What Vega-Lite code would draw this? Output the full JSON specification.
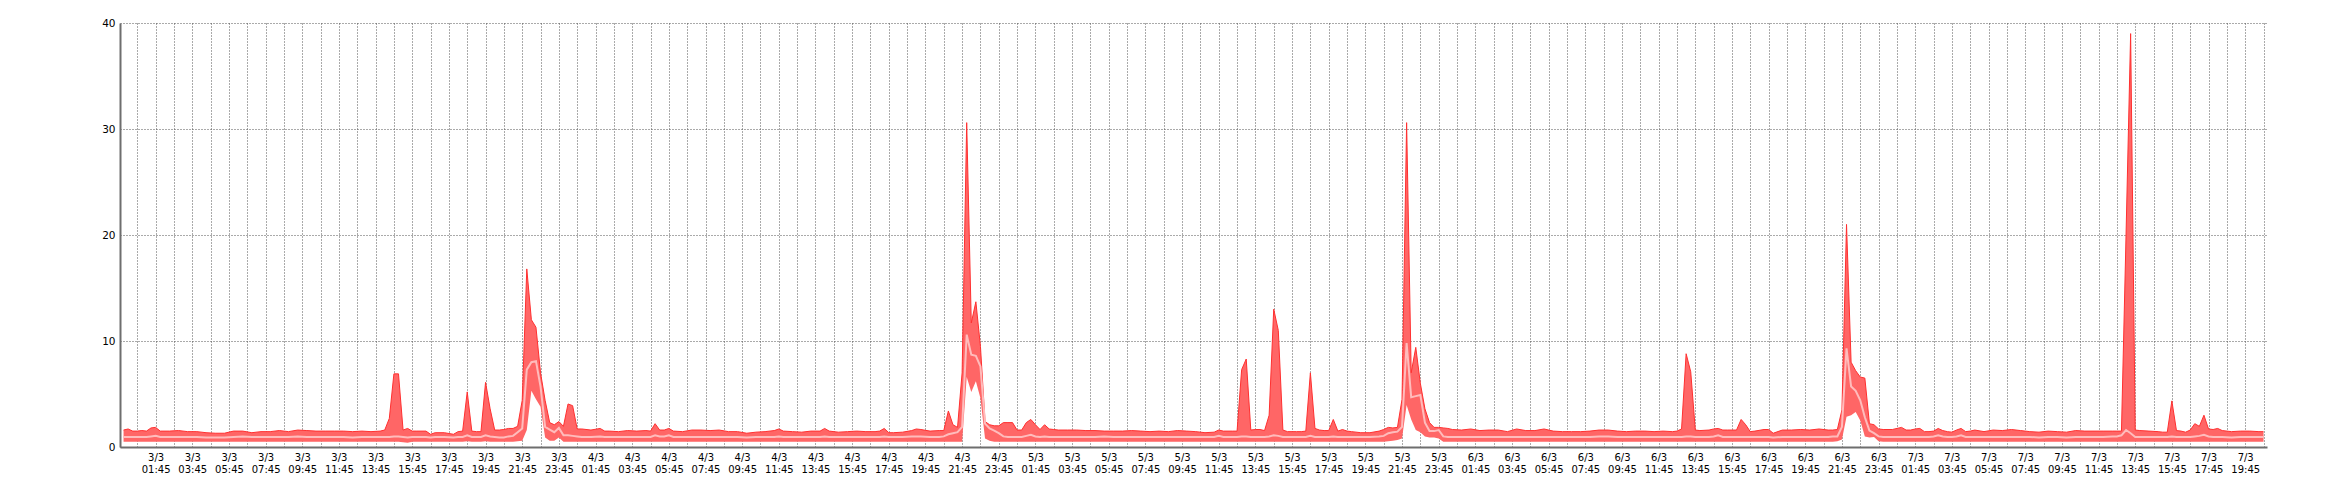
{
"$schema":"https://vega.github.io/schema/vega-lite/v6.json",
"width":2147,"height":424,
"autosize":{"type":"none"},
"padding":{"left":120,"top":23,"right":73,"bottom":53},
"background":"white",
"config":{"view":{"stroke":null},"axis":{"labelFont":"DejaVu Sans","labelFontSize":10,"labelColor":"#000","domainColor":"#6e6e6e","domainWidth":2,"gridColor":"#555","gridDash":[1,2],"gridWidth":1,"ticks":false}},
"data":{"values":[
{"t":"2023-03-03T00:00Z","lo":0.5,"avg":0.95,"hi":1.6},
{"t":"2023-03-03T00:15Z","lo":0.5,"avg":0.95,"hi":1.7},
{"t":"2023-03-03T00:30Z","lo":0.5,"avg":0.95,"hi":1.5},
{"t":"2023-03-03T00:45Z","lo":0.5,"avg":0.95,"hi":1.5},
{"t":"2023-03-03T01:00Z","lo":0.5,"avg":0.95,"hi":1.55},
{"t":"2023-03-03T01:15Z","lo":0.5,"avg":0.95,"hi":1.5},
{"t":"2023-03-03T01:30Z","lo":0.5,"avg":1.0,"hi":1.8},
{"t":"2023-03-03T01:45Z","lo":0.5,"avg":1.05,"hi":1.85},
{"t":"2023-03-03T02:00Z","lo":0.5,"avg":0.95,"hi":1.5},
{"t":"2023-03-03T02:30Z","lo":0.5,"avg":0.95,"hi":1.5},
{"t":"2023-03-03T03:00Z","lo":0.5,"avg":0.95,"hi":1.55},
{"t":"2023-03-03T03:30Z","lo":0.5,"avg":0.95,"hi":1.45},
{"t":"2023-03-03T04:00Z","lo":0.5,"avg":0.95,"hi":1.45},
{"t":"2023-03-03T04:30Z","lo":0.5,"avg":0.9,"hi":1.35},
{"t":"2023-03-03T05:00Z","lo":0.5,"avg":0.9,"hi":1.3},
{"t":"2023-03-03T05:30Z","lo":0.5,"avg":0.9,"hi":1.3},
{"t":"2023-03-03T06:00Z","lo":0.5,"avg":0.95,"hi":1.5},
{"t":"2023-03-03T06:30Z","lo":0.5,"avg":1.0,"hi":1.5},
{"t":"2023-03-03T07:00Z","lo":0.5,"avg":0.95,"hi":1.35},
{"t":"2023-03-03T07:30Z","lo":0.5,"avg":0.95,"hi":1.45},
{"t":"2023-03-03T08:00Z","lo":0.5,"avg":0.95,"hi":1.45},
{"t":"2023-03-03T08:30Z","lo":0.5,"avg":0.95,"hi":1.55},
{"t":"2023-03-03T09:00Z","lo":0.5,"avg":0.95,"hi":1.45},
{"t":"2023-03-03T09:30Z","lo":0.5,"avg":1.0,"hi":1.6},
{"t":"2023-03-03T10:00Z","lo":0.5,"avg":0.95,"hi":1.55},
{"t":"2023-03-03T10:30Z","lo":0.5,"avg":0.95,"hi":1.5},
{"t":"2023-03-03T11:00Z","lo":0.5,"avg":0.95,"hi":1.5},
{"t":"2023-03-03T11:30Z","lo":0.5,"avg":0.95,"hi":1.5},
{"t":"2023-03-03T12:00Z","lo":0.5,"avg":0.95,"hi":1.5},
{"t":"2023-03-03T12:30Z","lo":0.5,"avg":0.9,"hi":1.45},
{"t":"2023-03-03T13:00Z","lo":0.5,"avg":0.95,"hi":1.5},
{"t":"2023-03-03T13:30Z","lo":0.5,"avg":0.95,"hi":1.45},
{"t":"2023-03-03T14:00Z","lo":0.5,"avg":0.95,"hi":1.5},
{"t":"2023-03-03T14:15Z","lo":0.5,"avg":0.95,"hi":1.6},
{"t":"2023-03-03T14:30Z","lo":0.5,"avg":0.95,"hi":2.7},
{"t":"2023-03-03T14:45Z","lo":0.5,"avg":1.0,"hi":6.9},
{"t":"2023-03-03T15:00Z","lo":0.5,"avg":1.0,"hi":6.9},
{"t":"2023-03-03T15:15Z","lo":0.45,"avg":0.95,"hi":1.6},
{"t":"2023-03-03T15:30Z","lo":0.4,"avg":0.9,"hi":1.75},
{"t":"2023-03-03T15:45Z","lo":0.5,"avg":0.95,"hi":1.5},
{"t":"2023-03-03T16:00Z","lo":0.5,"avg":0.95,"hi":1.5},
{"t":"2023-03-03T16:30Z","lo":0.5,"avg":0.95,"hi":1.5},
{"t":"2023-03-03T16:45Z","lo":0.5,"avg":0.9,"hi":1.2},
{"t":"2023-03-03T17:00Z","lo":0.5,"avg":0.95,"hi":1.35},
{"t":"2023-03-03T17:30Z","lo":0.5,"avg":0.95,"hi":1.35},
{"t":"2023-03-03T18:00Z","lo":0.5,"avg":0.9,"hi":1.2},
{"t":"2023-03-03T18:15Z","lo":0.5,"avg":0.95,"hi":1.45},
{"t":"2023-03-03T18:30Z","lo":0.5,"avg":0.95,"hi":1.5},
{"t":"2023-03-03T18:45Z","lo":0.55,"avg":1.1,"hi":5.2},
{"t":"2023-03-03T19:00Z","lo":0.5,"avg":0.95,"hi":1.5},
{"t":"2023-03-03T19:15Z","lo":0.5,"avg":0.95,"hi":1.45},
{"t":"2023-03-03T19:30Z","lo":0.5,"avg":0.95,"hi":1.45},
{"t":"2023-03-03T19:45Z","lo":0.55,"avg":1.1,"hi":6.1},
{"t":"2023-03-03T20:00Z","lo":0.5,"avg":1.0,"hi":3.6},
{"t":"2023-03-03T20:15Z","lo":0.5,"avg":0.95,"hi":1.6},
{"t":"2023-03-03T20:30Z","lo":0.5,"avg":0.9,"hi":1.6},
{"t":"2023-03-03T20:45Z","lo":0.5,"avg":0.9,"hi":1.65},
{"t":"2023-03-03T21:00Z","lo":0.5,"avg":1.0,"hi":1.75},
{"t":"2023-03-03T21:15Z","lo":0.5,"avg":1.05,"hi":1.75},
{"t":"2023-03-03T21:30Z","lo":0.55,"avg":1.4,"hi":1.95},
{"t":"2023-03-03T21:45Z","lo":0.6,"avg":1.75,"hi":4.4},
{"t":"2023-03-03T22:00Z","lo":1.6,"avg":7.3,"hi":16.8},
{"t":"2023-03-03T22:15Z","lo":5.3,"avg":8.0,"hi":12.0},
{"t":"2023-03-03T22:30Z","lo":4.5,"avg":8.1,"hi":11.3},
{"t":"2023-03-03T22:45Z","lo":3.8,"avg":5.7,"hi":7.0},
{"t":"2023-03-03T23:00Z","lo":0.9,"avg":1.9,"hi":4.4},
{"t":"2023-03-03T23:15Z","lo":0.6,"avg":1.65,"hi":2.3},
{"t":"2023-03-03T23:30Z","lo":0.6,"avg":1.4,"hi":2.1},
{"t":"2023-03-03T23:45Z","lo":0.9,"avg":1.8,"hi":2.4},
{"t":"2023-03-04T00:00Z","lo":0.5,"avg":1.1,"hi":1.95},
{"t":"2023-03-04T00:15Z","lo":0.5,"avg":1.1,"hi":4.06},
{"t":"2023-03-04T00:30Z","lo":0.5,"avg":1.05,"hi":3.9},
{"t":"2023-03-04T00:45Z","lo":0.5,"avg":1.0,"hi":1.7},
{"t":"2023-03-04T01:00Z","lo":0.5,"avg":0.95,"hi":1.7},
{"t":"2023-03-04T01:30Z","lo":0.5,"avg":0.95,"hi":1.6},
{"t":"2023-03-04T02:00Z","lo":0.5,"avg":1.0,"hi":1.75},
{"t":"2023-03-04T02:15Z","lo":0.5,"avg":0.95,"hi":1.5},
{"t":"2023-03-04T02:30Z","lo":0.5,"avg":0.95,"hi":1.5},
{"t":"2023-03-04T03:00Z","lo":0.5,"avg":0.95,"hi":1.45},
{"t":"2023-03-04T03:30Z","lo":0.5,"avg":0.95,"hi":1.55},
{"t":"2023-03-04T04:00Z","lo":0.5,"avg":0.95,"hi":1.5},
{"t":"2023-03-04T04:30Z","lo":0.5,"avg":0.95,"hi":1.55},
{"t":"2023-03-04T04:45Z","lo":0.5,"avg":0.95,"hi":1.5},
{"t":"2023-03-04T05:00Z","lo":0.5,"avg":1.1,"hi":2.2},
{"t":"2023-03-04T05:15Z","lo":0.5,"avg":1.0,"hi":1.6},
{"t":"2023-03-04T05:30Z","lo":0.5,"avg":1.0,"hi":1.6},
{"t":"2023-03-04T05:45Z","lo":0.5,"avg":1.1,"hi":1.75},
{"t":"2023-03-04T06:00Z","lo":0.5,"avg":0.95,"hi":1.5},
{"t":"2023-03-04T06:30Z","lo":0.5,"avg":0.95,"hi":1.45},
{"t":"2023-03-04T07:00Z","lo":0.5,"avg":0.95,"hi":1.6},
{"t":"2023-03-04T07:30Z","lo":0.5,"avg":0.95,"hi":1.6},
{"t":"2023-03-04T08:00Z","lo":0.5,"avg":0.95,"hi":1.55},
{"t":"2023-03-04T08:30Z","lo":0.5,"avg":0.95,"hi":1.6},
{"t":"2023-03-04T09:00Z","lo":0.5,"avg":0.95,"hi":1.45},
{"t":"2023-03-04T09:30Z","lo":0.5,"avg":0.95,"hi":1.45},
{"t":"2023-03-04T10:00Z","lo":0.5,"avg":0.9,"hi":1.3},
{"t":"2023-03-04T10:30Z","lo":0.5,"avg":0.95,"hi":1.4},
{"t":"2023-03-04T11:00Z","lo":0.5,"avg":0.95,"hi":1.45},
{"t":"2023-03-04T11:30Z","lo":0.5,"avg":0.95,"hi":1.55},
{"t":"2023-03-04T11:45Z","lo":0.5,"avg":1.0,"hi":1.7},
{"t":"2023-03-04T12:00Z","lo":0.5,"avg":0.95,"hi":1.5},
{"t":"2023-03-04T12:30Z","lo":0.5,"avg":0.95,"hi":1.45},
{"t":"2023-03-04T13:00Z","lo":0.5,"avg":0.95,"hi":1.4},
{"t":"2023-03-04T13:30Z","lo":0.5,"avg":0.95,"hi":1.5},
{"t":"2023-03-04T14:00Z","lo":0.5,"avg":0.95,"hi":1.5},
{"t":"2023-03-04T14:15Z","lo":0.5,"avg":1.0,"hi":1.75},
{"t":"2023-03-04T14:30Z","lo":0.5,"avg":0.95,"hi":1.5},
{"t":"2023-03-04T15:00Z","lo":0.5,"avg":0.95,"hi":1.4},
{"t":"2023-03-04T15:30Z","lo":0.5,"avg":0.95,"hi":1.45},
{"t":"2023-03-04T16:00Z","lo":0.5,"avg":0.95,"hi":1.5},
{"t":"2023-03-04T16:30Z","lo":0.5,"avg":0.95,"hi":1.45},
{"t":"2023-03-04T17:00Z","lo":0.5,"avg":0.95,"hi":1.45},
{"t":"2023-03-04T17:15Z","lo":0.5,"avg":0.95,"hi":1.5},
{"t":"2023-03-04T17:30Z","lo":0.5,"avg":1.0,"hi":1.75},
{"t":"2023-03-04T17:45Z","lo":0.5,"avg":0.95,"hi":1.35},
{"t":"2023-03-04T18:00Z","lo":0.5,"avg":0.95,"hi":1.35},
{"t":"2023-03-04T18:30Z","lo":0.5,"avg":0.95,"hi":1.4},
{"t":"2023-03-04T19:00Z","lo":0.5,"avg":1.0,"hi":1.55},
{"t":"2023-03-04T19:15Z","lo":0.5,"avg":1.0,"hi":1.7},
{"t":"2023-03-04T19:30Z","lo":0.5,"avg":1.0,"hi":1.65},
{"t":"2023-03-04T20:00Z","lo":0.5,"avg":0.95,"hi":1.5},
{"t":"2023-03-04T20:30Z","lo":0.5,"avg":0.95,"hi":1.55},
{"t":"2023-03-04T20:45Z","lo":0.5,"avg":1.0,"hi":1.55},
{"t":"2023-03-04T21:00Z","lo":0.5,"avg":1.2,"hi":3.4},
{"t":"2023-03-04T21:15Z","lo":0.5,"avg":1.3,"hi":2.1},
{"t":"2023-03-04T21:30Z","lo":0.5,"avg":1.4,"hi":1.85},
{"t":"2023-03-04T21:45Z","lo":0.5,"avg":1.9,"hi":7.0},
{"t":"2023-03-04T22:00Z","lo":6.6,"avg":10.6,"hi":30.6},
{"t":"2023-03-04T22:15Z","lo":5.2,"avg":8.7,"hi":11.7},
{"t":"2023-03-04T22:30Z","lo":6.2,"avg":8.6,"hi":13.7},
{"t":"2023-03-04T22:45Z","lo":4.6,"avg":7.6,"hi":9.5},
{"t":"2023-03-04T23:00Z","lo":0.8,"avg":2.2,"hi":2.4},
{"t":"2023-03-04T23:15Z","lo":0.6,"avg":1.75,"hi":2.1},
{"t":"2023-03-04T23:30Z","lo":0.5,"avg":1.55,"hi":2.0},
{"t":"2023-03-04T23:45Z","lo":0.5,"avg":1.3,"hi":2.0},
{"t":"2023-03-05T00:00Z","lo":0.5,"avg":1.0,"hi":2.3},
{"t":"2023-03-05T00:15Z","lo":0.5,"avg":0.95,"hi":2.3},
{"t":"2023-03-05T00:30Z","lo":0.5,"avg":0.95,"hi":2.3},
{"t":"2023-03-05T00:45Z","lo":0.5,"avg":0.95,"hi":1.6},
{"t":"2023-03-05T01:00Z","lo":0.5,"avg":0.95,"hi":1.6},
{"t":"2023-03-05T01:15Z","lo":0.5,"avg":1.05,"hi":2.3},
{"t":"2023-03-05T01:30Z","lo":0.5,"avg":1.15,"hi":2.6},
{"t":"2023-03-05T01:45Z","lo":0.5,"avg":1.0,"hi":2.1},
{"t":"2023-03-05T02:00Z","lo":0.5,"avg":0.95,"hi":1.65},
{"t":"2023-03-05T02:15Z","lo":0.5,"avg":1.0,"hi":2.1},
{"t":"2023-03-05T02:30Z","lo":0.5,"avg":0.95,"hi":1.7},
{"t":"2023-03-05T02:45Z","lo":0.5,"avg":0.95,"hi":1.65},
{"t":"2023-03-05T03:00Z","lo":0.5,"avg":0.95,"hi":1.6},
{"t":"2023-03-05T03:30Z","lo":0.5,"avg":0.95,"hi":1.6},
{"t":"2023-03-05T04:00Z","lo":0.5,"avg":0.95,"hi":1.6},
{"t":"2023-03-05T04:30Z","lo":0.5,"avg":0.95,"hi":1.55},
{"t":"2023-03-05T05:00Z","lo":0.5,"avg":0.95,"hi":1.55},
{"t":"2023-03-05T05:30Z","lo":0.5,"avg":1.0,"hi":1.5},
{"t":"2023-03-05T06:00Z","lo":0.5,"avg":0.95,"hi":1.5},
{"t":"2023-03-05T06:30Z","lo":0.5,"avg":0.95,"hi":1.5},
{"t":"2023-03-05T07:00Z","lo":0.5,"avg":0.95,"hi":1.55},
{"t":"2023-03-05T07:30Z","lo":0.5,"avg":0.95,"hi":1.5},
{"t":"2023-03-05T08:00Z","lo":0.5,"avg":0.95,"hi":1.45},
{"t":"2023-03-05T08:30Z","lo":0.5,"avg":0.95,"hi":1.5},
{"t":"2023-03-05T09:00Z","lo":0.5,"avg":0.95,"hi":1.45},
{"t":"2023-03-05T09:30Z","lo":0.5,"avg":0.95,"hi":1.55},
{"t":"2023-03-05T10:00Z","lo":0.5,"avg":0.95,"hi":1.5},
{"t":"2023-03-05T10:30Z","lo":0.5,"avg":0.95,"hi":1.45},
{"t":"2023-03-05T11:00Z","lo":0.5,"avg":0.95,"hi":1.35},
{"t":"2023-03-05T11:30Z","lo":0.5,"avg":0.95,"hi":1.4},
{"t":"2023-03-05T11:45Z","lo":0.5,"avg":1.05,"hi":1.6},
{"t":"2023-03-05T12:00Z","lo":0.5,"avg":0.95,"hi":1.5},
{"t":"2023-03-05T12:30Z","lo":0.5,"avg":0.95,"hi":1.5},
{"t":"2023-03-05T12:45Z","lo":0.5,"avg":0.95,"hi":1.5},
{"t":"2023-03-05T13:00Z","lo":0.5,"avg":1.0,"hi":7.3},
{"t":"2023-03-05T13:15Z","lo":0.5,"avg":1.0,"hi":8.3},
{"t":"2023-03-05T13:30Z","lo":0.5,"avg":0.95,"hi":1.6},
{"t":"2023-03-05T13:45Z","lo":0.5,"avg":0.95,"hi":1.65},
{"t":"2023-03-05T14:00Z","lo":0.5,"avg":0.95,"hi":1.65},
{"t":"2023-03-05T14:15Z","lo":0.5,"avg":0.95,"hi":1.55},
{"t":"2023-03-05T14:30Z","lo":0.5,"avg":1.0,"hi":3.0},
{"t":"2023-03-05T14:45Z","lo":0.5,"avg":1.1,"hi":13.0},
{"t":"2023-03-05T15:00Z","lo":0.5,"avg":1.05,"hi":11.0},
{"t":"2023-03-05T15:15Z","lo":0.5,"avg":0.95,"hi":1.6},
{"t":"2023-03-05T15:30Z","lo":0.5,"avg":0.95,"hi":1.45},
{"t":"2023-03-05T16:00Z","lo":0.5,"avg":0.95,"hi":1.45},
{"t":"2023-03-05T16:15Z","lo":0.5,"avg":0.95,"hi":1.45},
{"t":"2023-03-05T16:30Z","lo":0.5,"avg":0.95,"hi":1.5},
{"t":"2023-03-05T16:45Z","lo":0.5,"avg":1.05,"hi":7.0},
{"t":"2023-03-05T17:00Z","lo":0.5,"avg":0.95,"hi":1.75},
{"t":"2023-03-05T17:15Z","lo":0.5,"avg":0.95,"hi":1.6},
{"t":"2023-03-05T17:30Z","lo":0.5,"avg":0.95,"hi":1.55},
{"t":"2023-03-05T17:45Z","lo":0.5,"avg":0.95,"hi":1.55},
{"t":"2023-03-05T18:00Z","lo":0.5,"avg":1.0,"hi":2.6},
{"t":"2023-03-05T18:15Z","lo":0.5,"avg":0.95,"hi":1.5},
{"t":"2023-03-05T18:30Z","lo":0.5,"avg":0.95,"hi":1.65},
{"t":"2023-03-05T18:45Z","lo":0.5,"avg":0.95,"hi":1.5},
{"t":"2023-03-05T19:00Z","lo":0.5,"avg":0.95,"hi":1.45},
{"t":"2023-03-05T19:30Z","lo":0.5,"avg":0.95,"hi":1.35},
{"t":"2023-03-05T20:00Z","lo":0.5,"avg":0.95,"hi":1.35},
{"t":"2023-03-05T20:30Z","lo":0.5,"avg":1.0,"hi":1.5},
{"t":"2023-03-05T20:45Z","lo":0.5,"avg":1.05,"hi":1.65},
{"t":"2023-03-05T21:00Z","lo":0.55,"avg":1.3,"hi":1.85},
{"t":"2023-03-05T21:15Z","lo":0.6,"avg":1.4,"hi":1.8},
{"t":"2023-03-05T21:30Z","lo":0.65,"avg":1.45,"hi":1.85},
{"t":"2023-03-05T21:45Z","lo":0.8,"avg":1.9,"hi":4.5},
{"t":"2023-03-05T22:00Z","lo":3.96,"avg":9.8,"hi":30.6},
{"t":"2023-03-05T22:15Z","lo":2.6,"avg":4.7,"hi":7.0},
{"t":"2023-03-05T22:30Z","lo":1.6,"avg":4.8,"hi":9.4},
{"t":"2023-03-05T22:45Z","lo":1.4,"avg":4.9,"hi":6.0},
{"t":"2023-03-05T23:00Z","lo":1.0,"avg":2.3,"hi":3.6},
{"t":"2023-03-05T23:15Z","lo":0.9,"avg":1.5,"hi":2.3},
{"t":"2023-03-05T23:30Z","lo":0.9,"avg":1.5,"hi":1.85},
{"t":"2023-03-05T23:45Z","lo":0.8,"avg":1.6,"hi":1.85},
{"t":"2023-03-06T00:00Z","lo":0.5,"avg":1.0,"hi":1.8},
{"t":"2023-03-06T00:15Z","lo":0.5,"avg":0.95,"hi":1.75},
{"t":"2023-03-06T00:30Z","lo":0.5,"avg":0.95,"hi":1.65},
{"t":"2023-03-06T01:00Z","lo":0.5,"avg":0.95,"hi":1.6},
{"t":"2023-03-06T01:30Z","lo":0.5,"avg":0.95,"hi":1.7},
{"t":"2023-03-06T02:00Z","lo":0.5,"avg":0.95,"hi":1.55},
{"t":"2023-03-06T02:30Z","lo":0.5,"avg":0.95,"hi":1.6},
{"t":"2023-03-06T03:00Z","lo":0.5,"avg":0.95,"hi":1.6},
{"t":"2023-03-06T03:30Z","lo":0.5,"avg":0.95,"hi":1.45},
{"t":"2023-03-06T04:00Z","lo":0.5,"avg":0.95,"hi":1.7},
{"t":"2023-03-06T04:30Z","lo":0.5,"avg":0.95,"hi":1.55},
{"t":"2023-03-06T05:00Z","lo":0.5,"avg":0.95,"hi":1.55},
{"t":"2023-03-06T05:30Z","lo":0.5,"avg":0.95,"hi":1.7},
{"t":"2023-03-06T06:00Z","lo":0.5,"avg":0.95,"hi":1.5},
{"t":"2023-03-06T06:30Z","lo":0.5,"avg":0.95,"hi":1.45},
{"t":"2023-03-06T07:00Z","lo":0.5,"avg":0.95,"hi":1.45},
{"t":"2023-03-06T07:30Z","lo":0.5,"avg":0.95,"hi":1.45},
{"t":"2023-03-06T08:00Z","lo":0.5,"avg":0.95,"hi":1.5},
{"t":"2023-03-06T08:30Z","lo":0.5,"avg":1.0,"hi":1.6},
{"t":"2023-03-06T09:00Z","lo":0.5,"avg":1.0,"hi":1.6},
{"t":"2023-03-06T09:30Z","lo":0.5,"avg":0.95,"hi":1.5},
{"t":"2023-03-06T10:00Z","lo":0.5,"avg":0.95,"hi":1.45},
{"t":"2023-03-06T10:30Z","lo":0.5,"avg":0.95,"hi":1.5},
{"t":"2023-03-06T11:00Z","lo":0.5,"avg":0.95,"hi":1.5},
{"t":"2023-03-06T11:30Z","lo":0.5,"avg":0.95,"hi":1.45},
{"t":"2023-03-06T12:00Z","lo":0.5,"avg":0.95,"hi":1.5},
{"t":"2023-03-06T12:30Z","lo":0.5,"avg":0.95,"hi":1.45},
{"t":"2023-03-06T12:45Z","lo":0.5,"avg":0.95,"hi":1.5},
{"t":"2023-03-06T13:00Z","lo":0.5,"avg":0.95,"hi":1.7},
{"t":"2023-03-06T13:15Z","lo":0.5,"avg":1.0,"hi":8.8},
{"t":"2023-03-06T13:30Z","lo":0.5,"avg":1.0,"hi":7.1},
{"t":"2023-03-06T13:45Z","lo":0.5,"avg":0.95,"hi":1.6},
{"t":"2023-03-06T14:00Z","lo":0.5,"avg":0.95,"hi":1.55},
{"t":"2023-03-06T14:30Z","lo":0.5,"avg":0.95,"hi":1.6},
{"t":"2023-03-06T14:45Z","lo":0.5,"avg":1.0,"hi":1.7},
{"t":"2023-03-06T15:00Z","lo":0.5,"avg":1.1,"hi":1.75},
{"t":"2023-03-06T15:15Z","lo":0.5,"avg":0.95,"hi":1.6},
{"t":"2023-03-06T15:30Z","lo":0.5,"avg":0.95,"hi":1.6},
{"t":"2023-03-06T15:45Z","lo":0.5,"avg":0.95,"hi":1.6},
{"t":"2023-03-06T16:00Z","lo":0.5,"avg":0.95,"hi":1.6},
{"t":"2023-03-06T16:15Z","lo":0.5,"avg":0.95,"hi":2.6},
{"t":"2023-03-06T16:30Z","lo":0.5,"avg":0.95,"hi":2.1},
{"t":"2023-03-06T16:45Z","lo":0.5,"avg":0.95,"hi":1.45},
{"t":"2023-03-06T17:00Z","lo":0.5,"avg":0.95,"hi":1.5},
{"t":"2023-03-06T17:30Z","lo":0.5,"avg":0.95,"hi":1.65},
{"t":"2023-03-06T17:45Z","lo":0.5,"avg":0.95,"hi":1.65},
{"t":"2023-03-06T18:00Z","lo":0.5,"avg":0.9,"hi":1.3},
{"t":"2023-03-06T18:30Z","lo":0.5,"avg":0.95,"hi":1.6},
{"t":"2023-03-06T19:00Z","lo":0.5,"avg":0.95,"hi":1.6},
{"t":"2023-03-06T19:30Z","lo":0.5,"avg":0.95,"hi":1.65},
{"t":"2023-03-06T20:00Z","lo":0.5,"avg":0.95,"hi":1.6},
{"t":"2023-03-06T20:30Z","lo":0.5,"avg":0.95,"hi":1.7},
{"t":"2023-03-06T21:00Z","lo":0.5,"avg":0.95,"hi":1.6},
{"t":"2023-03-06T21:15Z","lo":0.5,"avg":1.0,"hi":1.6},
{"t":"2023-03-06T21:30Z","lo":0.55,"avg":1.0,"hi":1.65},
{"t":"2023-03-06T21:45Z","lo":0.7,"avg":1.9,"hi":3.5},
{"t":"2023-03-06T22:00Z","lo":2.85,"avg":9.3,"hi":21.0},
{"t":"2023-03-06T22:15Z","lo":3.0,"avg":5.7,"hi":8.0},
{"t":"2023-03-06T22:30Z","lo":3.3,"avg":5.3,"hi":7.2},
{"t":"2023-03-06T22:45Z","lo":2.5,"avg":4.4,"hi":6.6},
{"t":"2023-03-06T23:00Z","lo":1.0,"avg":2.8,"hi":6.5},
{"t":"2023-03-06T23:15Z","lo":0.9,"avg":1.55,"hi":2.2},
{"t":"2023-03-06T23:30Z","lo":0.95,"avg":1.3,"hi":2.1},
{"t":"2023-03-06T23:45Z","lo":0.55,"avg":1.0,"hi":1.7},
{"t":"2023-03-07T00:00Z","lo":0.5,"avg":0.95,"hi":1.65},
{"t":"2023-03-07T00:30Z","lo":0.5,"avg":0.95,"hi":1.65},
{"t":"2023-03-07T01:00Z","lo":0.5,"avg":0.95,"hi":1.85},
{"t":"2023-03-07T01:15Z","lo":0.5,"avg":0.95,"hi":1.6},
{"t":"2023-03-07T01:30Z","lo":0.5,"avg":0.95,"hi":1.6},
{"t":"2023-03-07T01:45Z","lo":0.5,"avg":0.95,"hi":1.7},
{"t":"2023-03-07T02:00Z","lo":0.5,"avg":0.95,"hi":1.75},
{"t":"2023-03-07T02:15Z","lo":0.5,"avg":0.95,"hi":1.45},
{"t":"2023-03-07T02:30Z","lo":0.5,"avg":0.95,"hi":1.45},
{"t":"2023-03-07T02:45Z","lo":0.5,"avg":1.0,"hi":1.5},
{"t":"2023-03-07T03:00Z","lo":0.5,"avg":1.1,"hi":1.75},
{"t":"2023-03-07T03:15Z","lo":0.5,"avg":1.0,"hi":1.55},
{"t":"2023-03-07T03:30Z","lo":0.5,"avg":0.95,"hi":1.45},
{"t":"2023-03-07T03:45Z","lo":0.5,"avg":0.95,"hi":1.4},
{"t":"2023-03-07T04:00Z","lo":0.5,"avg":1.0,"hi":1.6},
{"t":"2023-03-07T04:15Z","lo":0.5,"avg":1.1,"hi":1.75},
{"t":"2023-03-07T04:30Z","lo":0.5,"avg":0.95,"hi":1.45},
{"t":"2023-03-07T04:45Z","lo":0.5,"avg":0.95,"hi":1.5},
{"t":"2023-03-07T05:00Z","lo":0.5,"avg":0.95,"hi":1.6},
{"t":"2023-03-07T05:30Z","lo":0.5,"avg":0.95,"hi":1.45},
{"t":"2023-03-07T06:00Z","lo":0.5,"avg":0.95,"hi":1.6},
{"t":"2023-03-07T06:30Z","lo":0.5,"avg":0.95,"hi":1.55},
{"t":"2023-03-07T07:00Z","lo":0.5,"avg":0.95,"hi":1.65},
{"t":"2023-03-07T07:30Z","lo":0.5,"avg":0.95,"hi":1.55},
{"t":"2023-03-07T08:00Z","lo":0.5,"avg":0.95,"hi":1.45},
{"t":"2023-03-07T08:30Z","lo":0.5,"avg":0.9,"hi":1.4},
{"t":"2023-03-07T09:00Z","lo":0.5,"avg":0.95,"hi":1.5},
{"t":"2023-03-07T09:30Z","lo":0.5,"avg":0.95,"hi":1.45},
{"t":"2023-03-07T10:00Z","lo":0.5,"avg":0.9,"hi":1.4},
{"t":"2023-03-07T10:30Z","lo":0.5,"avg":0.95,"hi":1.55},
{"t":"2023-03-07T11:00Z","lo":0.5,"avg":0.95,"hi":1.5},
{"t":"2023-03-07T11:30Z","lo":0.5,"avg":0.95,"hi":1.5},
{"t":"2023-03-07T12:00Z","lo":0.5,"avg":0.95,"hi":1.5},
{"t":"2023-03-07T12:30Z","lo":0.5,"avg":1.0,"hi":1.5},
{"t":"2023-03-07T12:45Z","lo":0.5,"avg":1.0,"hi":1.5},
{"t":"2023-03-07T13:00Z","lo":0.5,"avg":1.1,"hi":1.5},
{"t":"2023-03-07T13:15Z","lo":0.5,"avg":1.6,"hi":20.0},
{"t":"2023-03-07T13:30Z","lo":0.5,"avg":1.3,"hi":39.0},
{"t":"2023-03-07T13:45Z","lo":0.5,"avg":0.95,"hi":1.6},
{"t":"2023-03-07T14:00Z","lo":0.5,"avg":0.95,"hi":1.55},
{"t":"2023-03-07T14:30Z","lo":0.5,"avg":0.95,"hi":1.5},
{"t":"2023-03-07T15:00Z","lo":0.5,"avg":0.95,"hi":1.45},
{"t":"2023-03-07T15:15Z","lo":0.5,"avg":0.95,"hi":1.4},
{"t":"2023-03-07T15:30Z","lo":0.5,"avg":0.95,"hi":1.4},
{"t":"2023-03-07T15:45Z","lo":0.5,"avg":1.0,"hi":4.35},
{"t":"2023-03-07T16:00Z","lo":0.5,"avg":0.95,"hi":1.55},
{"t":"2023-03-07T16:15Z","lo":0.5,"avg":0.95,"hi":1.5},
{"t":"2023-03-07T16:30Z","lo":0.5,"avg":0.95,"hi":1.4},
{"t":"2023-03-07T16:45Z","lo":0.5,"avg":0.95,"hi":1.6},
{"t":"2023-03-07T17:00Z","lo":0.5,"avg":1.0,"hi":2.2},
{"t":"2023-03-07T17:15Z","lo":0.5,"avg":1.05,"hi":1.95},
{"t":"2023-03-07T17:30Z","lo":0.5,"avg":1.15,"hi":3.0},
{"t":"2023-03-07T17:45Z","lo":0.5,"avg":1.0,"hi":1.7},
{"t":"2023-03-07T18:00Z","lo":0.5,"avg":0.95,"hi":1.65},
{"t":"2023-03-07T18:15Z","lo":0.5,"avg":0.95,"hi":1.75},
{"t":"2023-03-07T18:30Z","lo":0.5,"avg":0.95,"hi":1.55},
{"t":"2023-03-07T19:00Z","lo":0.5,"avg":0.9,"hi":1.45},
{"t":"2023-03-07T19:30Z","lo":0.5,"avg":0.95,"hi":1.5},
{"t":"2023-03-07T20:00Z","lo":0.5,"avg":0.95,"hi":1.5},
{"t":"2023-03-07T20:30Z","lo":0.5,"avg":0.95,"hi":1.45},
{"t":"2023-03-07T20:45Z","lo":0.5,"avg":0.95,"hi":1.45}
]},
"encoding":{"x":{"field":"t","type":"temporal","scale":{"type":"utc","domain":[1677800904000,1678222584000]},
"axis":{"title":null,"grid":true,"values":[1677804300000,1677807900000,1677811500000,1677815100000,1677818700000,1677822300000,1677825900000,1677829500000,1677833100000,1677836700000,1677840300000,1677843900000,1677847500000,1677851100000,1677854700000,1677858300000,1677861900000,1677865500000,1677869100000,1677872700000,1677876300000,1677879900000,1677883500000,1677887100000,1677890700000,1677894300000,1677897900000,1677901500000,1677905100000,1677908700000,1677912300000,1677915900000,1677919500000,1677923100000,1677926700000,1677930300000,1677933900000,1677937500000,1677941100000,1677944700000,1677948300000,1677951900000,1677955500000,1677959100000,1677962700000,1677966300000,1677969900000,1677973500000,1677977100000,1677980700000,1677984300000,1677987900000,1677991500000,1677995100000,1677998700000,1678002300000,1678005900000,1678009500000,1678013100000,1678016700000,1678020300000,1678023900000,1678027500000,1678031100000,1678034700000,1678038300000,1678041900000,1678045500000,1678049100000,1678052700000,1678056300000,1678059900000,1678063500000,1678067100000,1678070700000,1678074300000,1678077900000,1678081500000,1678085100000,1678088700000,1678092300000,1678095900000,1678099500000,1678103100000,1678106700000,1678110300000,1678113900000,1678117500000,1678121100000,1678124700000,1678128300000,1678131900000,1678135500000,1678139100000,1678142700000,1678146300000,1678149900000,1678153500000,1678157100000,1678160700000,1678164300000,1678167900000,1678171500000,1678175100000,1678178700000,1678182300000,1678185900000,1678189500000,1678193100000,1678196700000,1678200300000,1678203900000,1678207500000,1678211100000,1678214700000,1678218300000,1678221900000],
"labelExpr":"utchours(datum.value)%2===1 ? [utcFormat(datum.value,'%-d/%-m'), utcFormat(datum.value,'%H:%M')] : ''","labelOverlap":false,"labelFlush":false,"labelPadding":5,"labelLineHeight":12,"labelAlign":"center","labelBaseline":"top"}}},
"layer":[
{"mark":{"type":"area","color":"#ff6666","opacity":1},
 "encoding":{"y":{"field":"hi","type":"quantitative","scale":{"domain":[0,40],"nice":false},"axis":{"title":null,"values":[0,10,20,30,40],"grid":true,"labelPadding":5,"labelFontSize":10.5}},"y2":{"field":"lo"}}},
{"mark":{"type":"line","color":"#ff3030","strokeWidth":1},
 "encoding":{"y":{"field":"hi","type":"quantitative"}}},
{"mark":{"type":"line","color":"#ffbcbc","strokeWidth":2},
 "encoding":{"y":{"field":"avg","type":"quantitative"}}}
]
}
